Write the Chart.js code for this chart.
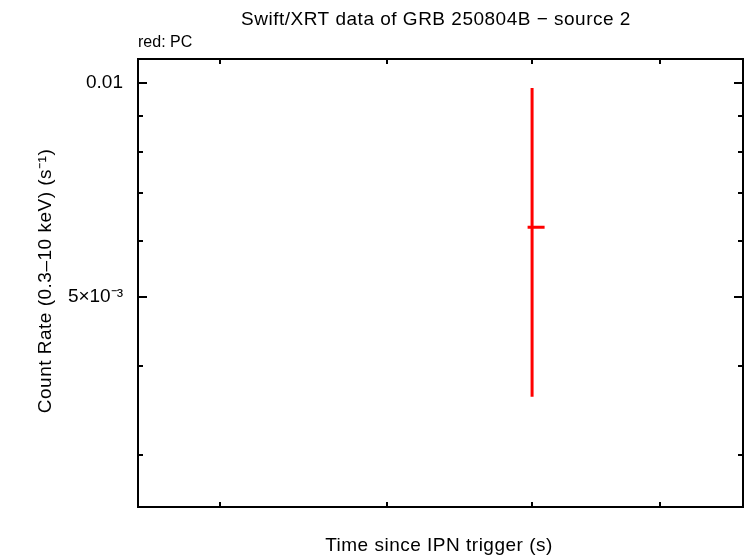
<!DOCTYPE html>
<html>
<head>
<meta charset="utf-8">
<script src="https://cdn.jsdelivr.net/npm/chart.js@4.4.1/dist/chart.umd.min.js"></script>
<style>
html, body { margin: 0; padding: 0; background: #fff; }
#wrap { width: 746px; height: 558px; }
</style>
</head>
<body>
<div id="wrap"><canvas id="lc" width="746" height="558"></canvas></div>
<script>
// light curve points (time in s, rate in counts/s)
const times = [80000];
const timeLo = [79670];
const timeHi = [80930];
const rates = [0.00627];
const rateLo = [0.00362];
const rateHi = [0.00984];

const yTicks = [0.003, 0.004, 0.005, 0.006, 0.007, 0.008, 0.009, 0.01];
const yMajor = [0.005, 0.01];
const yTickLabels = ["5×10⁻³", "0.01"];
const xTicks = [60000, 70000, 80000, 90000];

const FONT = '"Liberation Sans", Arial, sans-serif';

const errorBars = {
    id: "errorBars",
    afterDatasetsDraw(chart) {
        const ctx = chart.ctx;
        const xs = chart.scales.x;
        const ys = chart.scales.y;
        ctx.save();
        ctx.strokeStyle = "#ff0000";
        ctx.lineWidth = 3;
        for (let i = 0; i < times.length; i++) {
            const px = xs.getPixelForValue(times[i]);
            const py = ys.getPixelForValue(rates[i]);
            ctx.beginPath();
            ctx.moveTo(px, ys.getPixelForValue(rateLo[i]));
            ctx.lineTo(px, ys.getPixelForValue(rateHi[i]));
            ctx.moveTo(xs.getPixelForValue(timeLo[i]), py);
            ctx.lineTo(xs.getPixelForValue(timeHi[i]), py);
            ctx.stroke();
        }
        ctx.restore();
    }
};

const frame = {
    id: "frame",
    afterDraw(chart) {
        const ctx = chart.ctx;
        const a = chart.chartArea;
        const xs = chart.scales.x;
        const ys = chart.scales.y;
        ctx.save();
        ctx.strokeStyle = "#000";
        ctx.lineWidth = 2;
        ctx.strokeRect(a.left, a.top, a.right - a.left, a.bottom - a.top);

        ctx.beginPath();
        yTicks.forEach(v => {
            const py = Math.round(ys.getPixelForValue(v));
            const len = yMajor.includes(v) ? 9 : 5;
            ctx.moveTo(a.left, py);
            ctx.lineTo(a.left + len, py);
            ctx.moveTo(a.right, py);
            ctx.lineTo(a.right - len, py);
        });
        xTicks.forEach(v => {
            const px = Math.round(xs.getPixelForValue(v));
            ctx.moveTo(px, a.bottom);
            ctx.lineTo(px, a.bottom - 5);
            ctx.moveTo(px, a.top);
            ctx.lineTo(px, a.top + 5);
        });
        ctx.stroke();

        ctx.fillStyle = "#000";
        ctx.font = "19px " + FONT;
        ctx.letterSpacing = "0.5px";
        ctx.textBaseline = "middle";
        ctx.textAlign = "center";
        ctx.fillText("Swift/XRT data of GRB 250804B \u2212 source 2", 436, 20);
        ctx.fillText("Time since IPN trigger (s)", 439, 546);

        ctx.save();
        ctx.translate(46, 281);
        ctx.rotate(-Math.PI / 2);
        ctx.fillText("Count Rate (0.3\u201310 keV) (s\u207B\u00B9)", 0, 0);
        ctx.restore();

        ctx.font = "16px " + FONT;
        ctx.letterSpacing = "0px";
        ctx.textAlign = "left";
        ctx.fillText("red: PC", 138, 43);
        ctx.restore();
    }
};

new Chart(document.getElementById("lc").getContext("2d"), {
    type: "scatter",
    data: {
        datasets: [{
            label: "PC",
            data: times.map((t, i) => ({ x: t, y: rates[i] })),
            pointRadius: 0,
            borderColor: "#ff0000",
            backgroundColor: "#ff0000"
        }]
    },
    options: {
        responsive: false,
        animation: false,
        devicePixelRatio: 1,
        layout: { padding: { top: 59, right: 3, left: 0, bottom: 0 } },
        plugins: {
            legend: { display: false },
            tooltip: { enabled: false },
            title: { display: false }
        },
        scales: {
            x: {
                type: "logarithmic",
                min: 55600,
                max: 97200,
                grid: { display: false },
                border: { display: false },
                ticks: { display: false },
                afterBuildTicks: s => { s.ticks = xTicks.map(v => ({ value: v })); },
                afterFit: s => { s.height = 51; }
            },
            y: {
                type: "logarithmic",
                min: 0.002534,
                max: 0.01081,
                grid: { display: false },
                border: { display: false },
                ticks: {
                    color: "#000",
                    padding: 7,
                    font: { family: FONT, size: 19 },
                    autoSkip: false,
                    callback: v => {
                        const i = yMajor.findIndex(m => Math.abs(m - v) < 1e-9);
                        return i >= 0 ? yTickLabels[i] : "";
                    }
                },
                afterBuildTicks: s => { s.ticks = yTicks.map(v => ({ value: v })); },
                afterFit: s => { s.width = 138; }
            }
        }
    },
    plugins: [errorBars, frame]
});
</script>
</body>
</html>
